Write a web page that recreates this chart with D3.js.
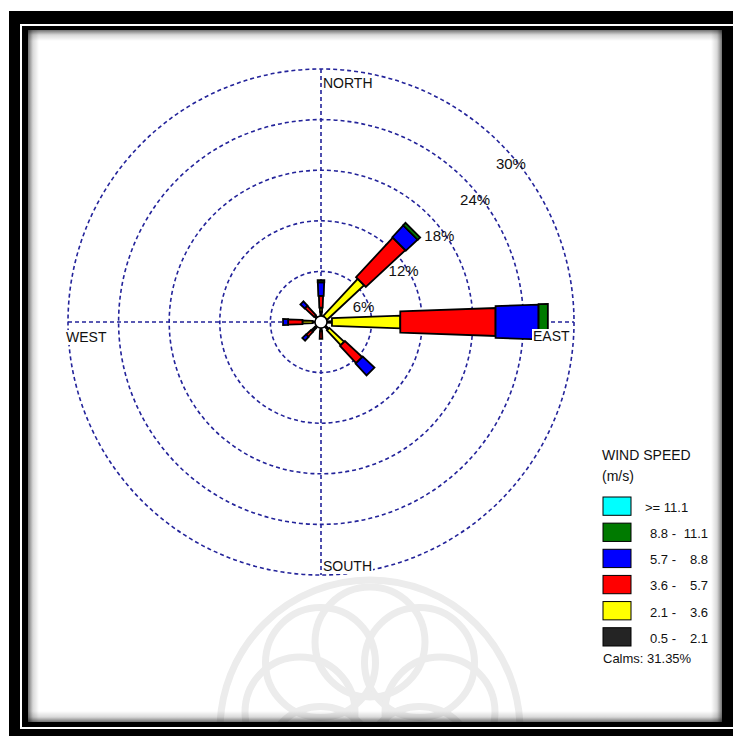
<!DOCTYPE html>
<html>
<head>
<meta charset="utf-8">
<script src="https://cdn.jsdelivr.net/npm/d3@7"></script>
<style>
  body { margin: 0; background: #fff; }
  text { font-family: Arial, "Liberation Sans", sans-serif; fill: #111; }
</style>
</head>
<body>
<div id="chart"></div>
<script>
// ---- datos (% de frecuencia por dirección y clase de velocidad) ----
const direcciones = ["N", "NNE", "NE", "ENE", "E", "ESE", "SE", "SSE",
                     "S", "SSW", "SW", "WSW", "W", "WNW", "NW", "NNW"];

const clases = ["0.5 - 2.1", "2.1 - 3.6", "3.6 - 5.7", "5.7 - 8.8", "8.8 - 11.1", ">= 11.1"];
const limitesBajos = [0.5, 2.1, 3.6, 5.7, 8.8, 11.1];
const limitesAltos = [2.1, 3.6, 5.7, 8.8, 11.1, null];
const colores = ["#242424", "#ffff00", "#ff0000", "#0000ff", "#007a00", "#00ffff"];

//                 N   NNE  NE  ENE   E   ESE   SE  SSE   S  SSW   SW  WSW   W  WNW   NW  NNW
const v05_21  = [1.2, 0, 0.7, 0, 1.3, 0, 1.2, 0, 1.0, 0, 0.9, 0, 1.0, 0, 0.7, 0];
const v21_36  = [0.5, 0, 6.0, 0, 8.1, 0, 2.4, 0, 0.1, 0, 0.6, 0, 1.2, 0, 0.3, 0];
const v36_57  = [1.4, 0, 6.4, 0, 11.3, 0, 2.8, 0, 0.9, 0, 0.8, 0, 1.7, 0, 1.5, 0];
const v57_88  = [1.6, 0, 1.9, 0, 5.1, 0, 1.9, 0, 0, 0, 0.6, 0, 0.6, 0, 0.7, 0];
const v88_111 = [0.25, 0, 0.4, 0, 1.1, 0, 0, 0, 0, 0, 0, 0, 0, 0, 0, 0];
const v111    = [0, 0, 0, 0, 0, 0, 0, 0, 0, 0, 0, 0, 0, 0, 0, 0];
const series = [v05_21, v21_36, v36_57, v57_88, v88_111, v111];

const anillos = [6, 12, 18, 24, 30];
const calmas = "Calms: 31.35%";
const etiquetasEjes = ["NORTH", "EAST", "SOUTH", "WEST"];

// ---- lienzo ----
const WIDTH = 733;
const HEIGHT = 736;
const svg = d3.select("#chart").append("svg")
  .attr("width", WIDTH)
  .attr("height", HEIGHT);

// marco negro con filete blanco
svg.append("rect").attr("x", 9).attr("y", 11).attr("width", WIDTH - 9).attr("height", HEIGHT - 11)
  .attr("fill", "#000");
svg.append("rect").attr("x", 21).attr("y", 25).attr("width", 740).attr("height", 703)
  .attr("fill", "none").attr("stroke", "#fff").attr("stroke-width", 2);
svg.append("rect").attr("x", 28).attr("y", 30).attr("width", 694).attr("height", 692)
  .attr("fill", "#fff");

// marca de agua tenue al pie (decorativa)
const clip = svg.append("clipPath").attr("id", "panel");
clip.append("rect").attr("x", 28).attr("y", 30).attr("width", 694).attr("height", 692);
const agua = svg.append("g").attr("clip-path", "url(#panel)")
  .attr("fill", "none").attr("stroke", "#ececec").attr("stroke-width", 7);
d3.range(8).forEach(i => {
  const a = i * Math.PI / 4;
  agua.append("circle")
    .attr("cx", 370 + 70 * Math.sin(a))
    .attr("cy", 712 - 70 * Math.cos(a))
    .attr("r", 55);
});
agua.append("circle").attr("cx", 370).attr("cy", 730).attr("r", 150);

// sombra interior del panel
const defs = svg.append("defs");
const bordes = [
  { id: "gIzq", x1: 0, y1: 0, x2: 1, y2: 0, x: 28, y: 30, w: 11, h: 692 },
  { id: "gSup", x1: 0, y1: 0, x2: 0, y2: 1, x: 28, y: 30, w: 694, h: 11 },
  { id: "gDer", x1: 1, y1: 0, x2: 0, y2: 0, x: 711, y: 30, w: 11, h: 692 },
  { id: "gInf", x1: 0, y1: 1, x2: 0, y2: 0, x: 28, y: 711, w: 694, h: 11 }
];
bordes.forEach(b => {
  const g = defs.append("linearGradient").attr("id", b.id)
    .attr("x1", b.x1).attr("y1", b.y1).attr("x2", b.x2).attr("y2", b.y2);
  g.append("stop").attr("offset", 0).attr("stop-color", "#000").attr("stop-opacity", 0.55);
  g.append("stop").attr("offset", 0.45).attr("stop-color", "#000").attr("stop-opacity", 0.15);
  g.append("stop").attr("offset", 1).attr("stop-color", "#000").attr("stop-opacity", 0);
  svg.append("rect").attr("x", b.x).attr("y", b.y).attr("width", b.w).attr("height", b.h)
    .attr("fill", `url(#${b.id})`);
});

// ---- rosa de vientos ----
const CX = 321;
const CY = 322;
const radio = d3.scaleLinear().domain([0, 30]).range([0, 253]);
const angulo = d3.scaleLinear().domain([0, direcciones.length]).range([0, 2 * Math.PI]);

const rosa = svg.append("g").attr("transform", `translate(${CX},${CY})`);
const azulGrid = "#23239a";

rosa.selectAll("circle.anillo")
  .data(anillos)
  .enter()
  .append("circle")
  .attr("class", "anillo")
  .attr("r", d => radio(d))
  .attr("fill", "none")
  .attr("stroke", azulGrid)
  .attr("stroke-width", 1.6)
  .attr("stroke-dasharray", "4 3");

const rMax = radio(d3.max(anillos));
rosa.append("line").attr("x1", 0).attr("x2", 0).attr("y1", -rMax).attr("y2", rMax)
  .attr("stroke", azulGrid).attr("stroke-width", 1.6).attr("stroke-dasharray", "4 3");
rosa.append("line").attr("y1", 0).attr("y2", 0).attr("x1", -rMax).attr("x2", rMax)
  .attr("stroke", azulGrid).attr("stroke-width", 1.6).attr("stroke-dasharray", "4 3");

// pétalos: cada tramo es un trapecio algo más ancho que el anterior
const TAN = 0.08;
const PEND = 0.035;
const tramos = [];
direcciones.forEach((dir, i) => {
  let acum = 0;
  series.forEach((s, k) => {
    const v = s[i];
    if (v <= 0) return;
    tramos.push({ dir: dir, i: i, k: k, r0: radio(acum), r1: radio(acum + v) });
    acum += v;
  });
});

function trapecio(t) {
  const a = angulo(t.i);
  const ux = Math.sin(a), uy = -Math.cos(a);
  const px = Math.cos(a), py = Math.sin(a);
  const hOut = t.r1 * TAN;
  const hIn = Math.max(t.r0 * TAN, hOut - (t.r1 - t.r0) * PEND);
  const pts = [
    [ux * t.r0 + px * hIn, uy * t.r0 + py * hIn],
    [ux * t.r1 + px * hOut, uy * t.r1 + py * hOut],
    [ux * t.r1 - px * hOut, uy * t.r1 - py * hOut],
    [ux * t.r0 - px * hIn, uy * t.r0 - py * hIn]
  ];
  return "M" + pts.map(p => p.join(",")).join("L") + "Z";
}

rosa.selectAll("path.tramo")
  .data(tramos)
  .enter()
  .append("path")
  .attr("class", "tramo")
  .attr("d", d => trapecio(d))
  .attr("fill", d => colores[d.k])
  .attr("stroke", "#000")
  .attr("stroke-width", 1.8)
  .attr("stroke-linejoin", "miter");

// círculo de calmas
rosa.append("circle").attr("r", 6).attr("fill", "#fff").attr("stroke", "#000").attr("stroke-width", 1.5);

// etiquetas de porcentaje sobre la diagonal NE
rosa.selectAll("text.pct")
  .data(anillos)
  .enter()
  .append("text")
  .attr("class", "pct")
  .attr("x", d => radio(d) * Math.SQRT1_2 - 4)
  .attr("y", d => -radio(d) * Math.SQRT1_2 + 26)
  .attr("font-size", "15px")
  .text(d => `${d}%`);

// etiquetas de puntos cardinales con fondo blanco
const cajas = {
  NORTH: { x: 2, y: -rMax + 19 },
  SOUTH: { x: 2, y: rMax - 4 },
  WEST: { x: -rMax - 2, y: 20 },
  EAST: { x: rMax - 41, y: 19 }
};
etiquetasEjes.forEach(nombre => {
  const c = cajas[nombre];
  const t = rosa.append("text")
    .attr("x", c.x).attr("y", c.y)
    .attr("font-size", "14px")
    .text(nombre);
  const bb = t.node().getBBox();
  rosa.insert("rect", () => t.node())
    .attr("x", bb.x - 1).attr("y", bb.y + 1)
    .attr("width", bb.width + 2).attr("height", bb.height - 1)
    .attr("fill", "#fff");
});

// ---- leyenda ----
const leyenda = svg.append("g").attr("transform", "translate(602, 0)");
leyenda.append("text").attr("x", 0).attr("y", 460).attr("font-size", "14px").text("WIND SPEED");
leyenda.append("text").attr("x", 0).attr("y", 481).attr("font-size", "14px").text("(m/s)");

const ordenLeyenda = d3.range(clases.length).reverse();
const yLeyenda = d3.scaleBand().domain(ordenLeyenda).range([497, 646]).paddingInner(0.3);

leyenda.selectAll("rect.caja")
  .data(ordenLeyenda)
  .enter()
  .append("rect")
  .attr("class", "caja")
  .attr("x", 1)
  .attr("y", d => yLeyenda(d))
  .attr("width", 28)
  .attr("height", yLeyenda.bandwidth())
  .attr("fill", d => colores[d])
  .attr("stroke", "#000")
  .attr("stroke-width", 1);

leyenda.selectAll("text.bajo")
  .data(ordenLeyenda)
  .enter()
  .append("text")
  .attr("class", "bajo")
  .attr("x", d => limitesAltos[d] === null ? 43 : 48)
  .attr("y", d => yLeyenda(d) + 15)
  .attr("font-size", "13px")
  .text(d => limitesAltos[d] === null ? `>= ${limitesBajos[d]}` : `${limitesBajos[d].toFixed(1)} -`);

leyenda.selectAll("text.alto")
  .data(ordenLeyenda.filter(d => limitesAltos[d] !== null))
  .enter()
  .append("text")
  .attr("class", "alto")
  .attr("x", 106)
  .attr("y", d => yLeyenda(d) + 15)
  .attr("text-anchor", "end")
  .attr("font-size", "13px")
  .text(d => limitesAltos[d].toFixed(1));

leyenda.append("text").attr("x", 1).attr("y", 663).attr("font-size", "13px").text(calmas);
</script>
</body>
</html>
